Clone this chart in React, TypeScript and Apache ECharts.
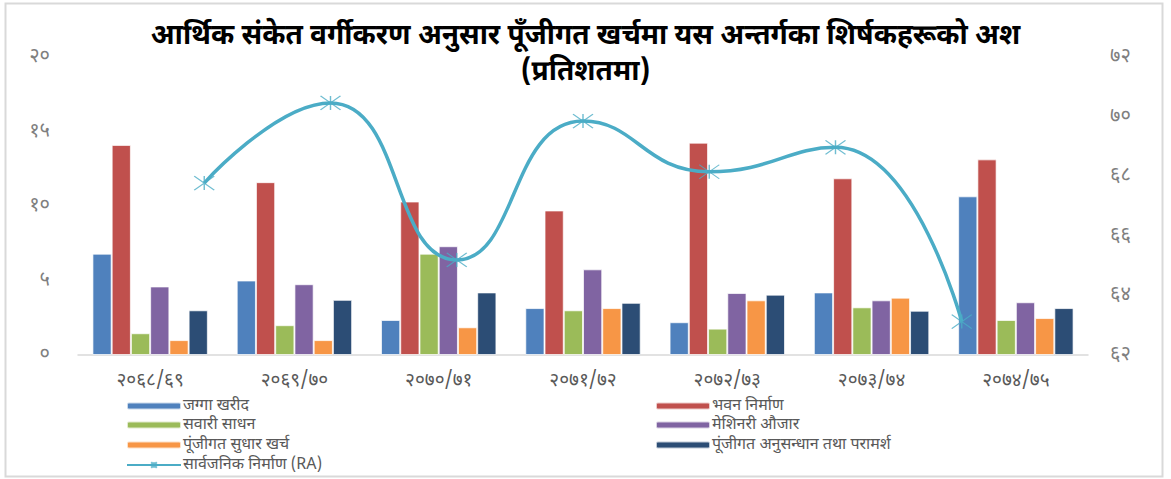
import React, { useEffect, useRef } from "react";
import * as echarts from "echarts";

const categories = ["२०६८/६९", "२०६९/७०", "२०७०/७१", "२०७१/७२", "२०७२/७३", "२०७३/७४", "२०७४/७५"];
const jaggaKharid = [6.8, 5.0, 2.35, 3.15, 2.2, 4.2, 10.65];
const bhawanNirman = [14.1, 11.6, 10.3, 9.7, 14.25, 11.86, 13.13];
const sawariSadhan = [1.46, 2.0, 6.8, 3.0, 1.77, 3.2, 2.35];
const meshinariAujar = [4.6, 4.75, 7.3, 5.75, 4.16, 3.67, 3.54];
const sudharKharcha = [1.0, 1.0, 1.86, 3.15, 3.67, 3.85, 2.48];
const anusandhan = [3.0, 3.7, 4.2, 3.5, 4.05, 2.97, 3.15];
const sarvajanikNirman = [67.77, 70.46, 65.19, 69.85, 68.15, 68.97, 63.12];

const barNames = ["जग्गा खरीद", "भवन निर्माण", "सवारी साधन", "मेशिनरी औजार", "पूंजीगत सुधार खर्च", "पूंजीगत अनुसन्धान तथा परामर्श"];
const lineName = "सार्वजनिक निर्माण (RA)";
const barData = [jaggaKharid, bhawanNirman, sawariSadhan, meshinariAujar, sudharKharcha, anusandhan];
const barColors = ["#4F81BD", "#C0504D", "#9BBB59", "#8064A2", "#F79646", "#2C4D75"];
const lineColor = "#4BACC6";

const DEV = ["०", "१", "२", "३", "४", "५", "६", "७", "८", "९"];
const toDev = (v: number | string) => String(v).replace(/\d/g, (d) => DEV[Number(d)]);

const FONT = "'Noto Sans Devanagari', 'Noto Sans', 'DejaVu Sans', sans-serif";

export default function App() {
  const ref = useRef<HTMLDivElement>(null);
  useEffect(() => {
    if (!ref.current) return;
    const chart = echarts.init(ref.current, null, { renderer: "svg" });
    const legendText = { color: "#595959", fontSize: 16, lineHeight: 18, fontFamily: FONT, padding: [0, 0, 0, -3] };
    const legendItems: [string, number, number][] = [
      [barNames[0], 126, 397],
      [barNames[2], 126, 416],
      [barNames[4], 126, 436],
      [lineName, 126, 456],
      [barNames[1], 655, 397],
      [barNames[3], 655, 416],
      [barNames[5], 655, 436],
    ];
    chart.setOption({
      animation: false,
      backgroundColor: "#fff",
      title: {
        text: "आर्थिक संकेत वर्गीकरण अनुसार पूँजीगत खर्चमा यस अन्तर्गका शिर्षकहरूको अश\n(प्रतिशतमा)",
        left: "center",
        top: 14,
        textStyle: { fontSize: 28, fontWeight: "bold", color: "#000", fontFamily: FONT, lineHeight: 36 },
      },
      graphic: [
        {
          type: "rect",
          shape: { x: 5.5, y: 3.5, width: 1157, height: 473 },
          style: { fill: "none", stroke: "#d9d9d9", lineWidth: 2 },
          silent: true,
        },
      ],
      legend: legendItems.map(([name, left, top]) => ({
        data: [name],
        left,
        top,
        padding: 0,
        itemWidth: 54,
        itemHeight: 7,
        textStyle: legendText,
      })),
      grid: { left: 78, right: 83, top: 57, bottom: 124 },
      xAxis: [
        {
          type: "category",
          data: categories,
          axisLine: { lineStyle: { color: "#d9d9d9", width: 1.5 } },
          axisTick: { show: false },
          axisLabel: { color: "#595959", fontSize: 19, fontFamily: FONT, margin: 17 },
        },
        {
          type: "value",
          min: -1,
          max: 7,
          show: false,
        },
      ],
      yAxis: [
        {
          type: "value",
          min: 0,
          max: 20,
          interval: 5,
          splitLine: { show: false },
          axisLine: { show: false },
          axisTick: { show: false },
          axisLabel: { color: "#7f7f7f", fontSize: 20, fontFamily: FONT, margin: 28, formatter: (v: number) => toDev(v) },
        },
        {
          type: "value",
          min: 62,
          max: 72,
          interval: 2,
          splitLine: { show: false },
          axisLine: { show: false },
          axisTick: { show: false },
          axisLabel: { color: "#7f7f7f", fontSize: 20, fontFamily: FONT, margin: 22, formatter: (v: number) => toDev(v) },
        },
      ],
      series: [
        ...barData.map((d, i) => ({
          name: barNames[i],
          type: "bar",
          data: d,
          barGap: "0%",
          barCategoryGap: "20%",
          itemStyle: { color: barColors[i], borderColor: "rgba(255,255,255,0.7)", borderWidth: 1 },
        })),
        {
          name: lineName,
          type: "line",
          xAxisIndex: 1,
          yAxisIndex: 1,
          data: sarvajanikNirman.map((v, i) => [i, v]),
          smooth: 0.5,
          symbol: "path://M0,0L20,14M20,0L0,14M10,0L10,14",
          symbolSize: [20, 14],
          lineStyle: { color: lineColor, width: 3.5 },
          itemStyle: { color: "rgba(75,172,198,0.8)", borderColor: "rgba(75,172,198,0.8)", borderWidth: 1.2 },
          z: 5,
        },
      ],
    });
    return () => chart.dispose();
  }, []);
  return <div ref={ref} style={{ position: "fixed", left: 0, top: 0, width: 1171, height: 479 }} />;
}
